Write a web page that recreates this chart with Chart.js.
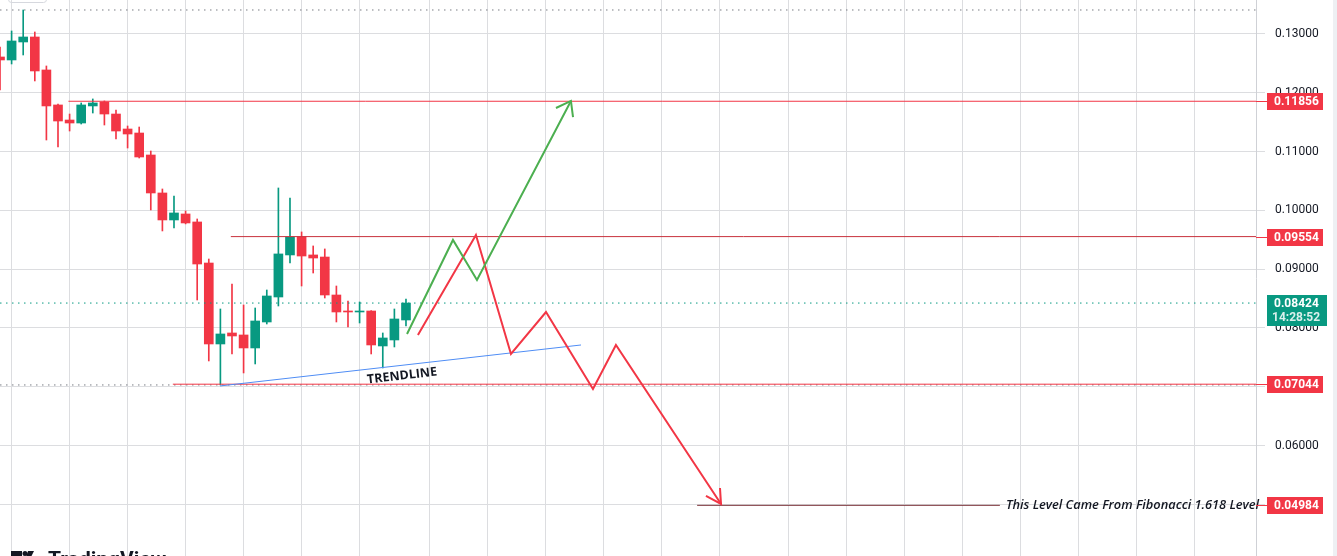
<!DOCTYPE html>
<html>
<head>
<meta charset="utf-8">
<script src="https://cdn.jsdelivr.net/npm/chart.js@4.4.1/dist/chart.umd.min.js"></script>
<style>
  html, body { margin: 0; padding: 0; background: #fff; overflow: hidden; }
  canvas { display: block; }
</style>
</head>
<body>
<canvas id="grafica" width="1337" height="556"></canvas>
<script>
// Velas diarias (el indice es la posicion en el eje x)
const opens  = [0.12609, 0.12558, 0.12864, 0.12949, 0.12388, 0.11793, 0.11537, 0.11486, 0.11776, 0.11844,
                0.11639, 0.11384, 0.11316, 0.10942, 0.10296, 0.09837, 0.09939, 0.09803, 0.09105, 0.07728,
                0.07915, 0.07881, 0.07660, 0.08102, 0.08527, 0.09242, 0.09548, 0.09242, 0.09207, 0.08561,
                0.08289, 0.08272, 0.08289, 0.07694, 0.07796, 0.08136];
const highs  = [0.12779, 0.13051, 0.13408, 0.13034, 0.12456, 0.11810, 0.11639, 0.11827, 0.11895, 0.11861,
                0.11707, 0.11435, 0.11418, 0.11010, 0.10364, 0.10245, 0.09990, 0.09854, 0.09173, 0.08323,
                0.08748, 0.08391, 0.08340, 0.08646, 0.10381, 0.10211, 0.09633, 0.09395, 0.09344, 0.08714,
                0.08459, 0.08442, 0.08295, 0.07915, 0.08323, 0.08493];
const lows   = [0.12048, 0.12490, 0.12643, 0.12201, 0.11197, 0.11078, 0.11350, 0.11469, 0.11656, 0.11452,
                0.11214, 0.11061, 0.10891, 0.10007, 0.09650, 0.09701, 0.09770, 0.08476, 0.07439, 0.07031,
                0.07558, 0.07235, 0.07388, 0.08068, 0.08374, 0.09105, 0.08714, 0.08935, 0.08510, 0.08102,
                0.08017, 0.08085, 0.07558, 0.07320, 0.07677, 0.08034];
const closes = [0.12558, 0.12881, 0.12949, 0.12371, 0.11776, 0.11520, 0.11486, 0.11793, 0.11827, 0.11639,
                0.11350, 0.11299, 0.10908, 0.10296, 0.09837, 0.09956, 0.09786, 0.09088, 0.07728, 0.07898,
                0.07864, 0.07660, 0.08119, 0.08544, 0.09259, 0.09548, 0.09224, 0.09190, 0.08561, 0.08272,
                0.08272, 0.08289, 0.07711, 0.07830, 0.08153, 0.08424];

const priceTicks = [0.05, 0.06, 0.07, 0.08, 0.09, 0.10, 0.11, 0.12, 0.13];
const gridDays = [1, 6, 11, 16, 21, 26, 31, 37, 42, 47, 52, 57, 62, 68, 73, 78, 83, 88, 93, 98, 103];
const timeLabel = "14:28:52";

// Niveles horizontales (precio e indice donde empiezan)
const levelPrices = [0.11856, 0.09554, 0.07044];
const levelStarts = [5.9, 19.9, 14.9];
const fibPrice = 0.04984;
const fibStart = 60.1;
const fibTextStart = 86.2;
const fibText = "This Level Came From Fibonacci 1.618 Level";

// Linea de tendencia
const trendX = [18.97, 50.09];
const trendY = [0.07014, 0.07711];
const trendLabel = "TRENDLINE";
const trendLabelX = 34.66;
const trendLabelY = 0.07184;

// Escenario alcista (verde) y bajista (rojo)
const greenPathX = [35.09, 39.05, 41.12, 49.22];
const greenPathY = [0.07898, 0.09497, 0.08816, 0.11861];
const greenHeadX = [47.93, 49.22, 49.40];
const greenHeadY = [0.11741, 0.11861, 0.11588];
const redPathX = [36.03, 41.03, 44.05, 47.07, 51.12, 53.10, 62.16];
const redPathY = [0.07881, 0.09582, 0.07558, 0.08272, 0.06963, 0.07711, 0.05007];
const redHeadX = [60.86, 62.16, 62.07];
const redHeadY = [0.05143, 0.05007, 0.05279];

const X_MAX = 108.28;
const Y_MIN = 0.04122;
const Y_MAX = 0.13578;

const UP = "#089981";
const DOWN = "#f23645";

const pts = (xs, ys) => xs.map((x, i) => ({ x, y: ys[i] }));
const lastClose = closes[closes.length - 1];
const hiPrice = Math.max(...highs);
const loPrice = Math.min(...lows);

function lineSet(data, color, width, order, dash) {
  return {
    type: "line", data, borderColor: color, borderWidth: width, borderDash: dash || [],
    pointRadius: 0, fill: false, tension: 0, order
  };
}

const datasets = [
  {
    type: "bar",
    data: opens.map((o, i) => ({ x: i, y: [o, closes[i]] })),
    backgroundColor: c => closes[c.dataIndex] >= opens[c.dataIndex] ? UP : DOWN,
    barThickness: 9, minBarLength: 1, grouped: false, order: 5
  },
  {
    type: "bar",
    data: lows.map((l, i) => ({ x: i, y: [l, highs[i]] })),
    backgroundColor: c => closes[c.dataIndex] >= opens[c.dataIndex] ? UP : DOWN,
    barThickness: 1, grouped: false, order: 6
  },
  lineSet(pts([0, X_MAX], [hiPrice, hiPrice]), "#7a7d85", 1, 4, [1.5, 4.5]),
  lineSet(pts([0, X_MAX], [loPrice, loPrice]), "#7a7d85", 1, 4, [1.5, 4.5]),
  lineSet(pts([0, X_MAX], [lastClose, lastClose]), UP, 1, 4, [1.5, 4.5]),
  lineSet(pts([levelStarts[0], X_MAX], [levelPrices[0], levelPrices[0]]), "#f23645", 1, 3),
  lineSet(pts([levelStarts[1], X_MAX], [levelPrices[1], levelPrices[1]]), "#c8323d", 1, 3),
  lineSet(pts([levelStarts[2], X_MAX], [levelPrices[2], levelPrices[2]]), "#f23645", 1, 3),
  lineSet(pts([fibStart, fibTextStart], [fibPrice, fibPrice]), "#7a3036", 1, 3),
  lineSet(pts(trendX, trendY), "#4f8df5", 1, 2),
  lineSet(pts(greenPathX, greenPathY), "#4caf50", 2, 1),
  lineSet(pts(greenHeadX, greenHeadY), "#4caf50", 2, 1),
  lineSet(pts(redPathX, redPathY), "#f23645", 2, 1),
  lineSet(pts(redHeadX, redHeadY), "#f23645", 2, 1)
];

const decoraciones = {
  id: "decoraciones",
  afterDatasetsDraw(chart) {
    const { ctx, scales: { x, y } } = chart;
    ctx.save();
    // texto de la linea de tendencia
    const ax = x.getPixelForValue(trendLabelX), ay = y.getPixelForValue(trendLabelY);
    const ang = Math.atan2(y.getPixelForValue(trendY[1]) - y.getPixelForValue(trendY[0]),
                           x.getPixelForValue(trendX[1]) - x.getPixelForValue(trendX[0]));
    ctx.translate(ax, ay);
    ctx.rotate(ang);
    ctx.fillStyle = "#131722";
    ctx.font = "bold 12.5px 'Open Sans'";
    ctx.textAlign = "center";
    ctx.textBaseline = "middle";
    ctx.fillText(trendLabel, 0, 0);
    ctx.restore();

    // texto fibonacci
    ctx.save();
    ctx.fillStyle = "#131722";
    ctx.font = "italic 600 12.8px 'Open Sans'";
    ctx.textAlign = "left";
    ctx.textBaseline = "middle";
    ctx.fillText(fibText, x.getPixelForValue(fibTextStart) + 6, y.getPixelForValue(fibPrice));

    // recuadro superior izquierdo
    ctx.strokeStyle = "#d6d8de";
    ctx.lineWidth = 1;
    ctx.beginPath();
    ctx.roundRect(8.5, -10, 38, 12.5, 3);
    ctx.stroke();

    // logo inferior
    ctx.fillStyle = "#131722";
    ctx.fillRect(11, 551, 11, 5);
    ctx.beginPath();
    ctx.arc(25, 553.5, 2.5, 0, Math.PI * 2);
    ctx.fill();
    ctx.beginPath();
    ctx.moveTo(28, 551); ctx.lineTo(34, 551); ctx.lineTo(31, 557); ctx.lineTo(26, 557);
    ctx.fill();
    ctx.font = "bold 21px Roboto";
    ctx.textBaseline = "alphabetic";
    ctx.fillText("TradingView", 48, 566);
    ctx.restore();
  },
  afterDraw(chart) {
    const { ctx, scales: { y }, chartArea } = chart;
    const left = chartArea.right;
    ctx.save();
    // barra gris derecha
    ctx.fillStyle = "#eef0f3";
    ctx.fillRect(1333, 0, 4, 556);

    ctx.textAlign = "left";
    ctx.textBaseline = "middle";
    const badges = [levelPrices[0], levelPrices[1], levelPrices[2], fibPrice];
    badges.forEach(p => {
      const py = Math.round(y.getPixelForValue(p));
      ctx.strokeStyle = "#f23645";
      ctx.lineWidth = 1;
      ctx.beginPath();
      ctx.moveTo(left, py + 0.5); ctx.lineTo(left + 11, py + 0.5);
      ctx.stroke();
      ctx.fillStyle = "#f23645";
      ctx.fillRect(left + 11, py - 8, 56, 17);
      ctx.fillStyle = "#ffffff";
      ctx.font = "bold 12px Roboto";
      ctx.fillText(p.toFixed(5), left + 18, py + 1);
    });
    // precio actual
    const cy = Math.round(y.getPixelForValue(lastClose));
    ctx.fillStyle = UP;
    ctx.fillRect(left + 11, cy - 8, 60, 31);
    ctx.fillStyle = "#ffffff";
    ctx.font = "bold 12px Roboto";
    ctx.fillText(lastClose.toFixed(5), left + 18, cy + 1);
    ctx.fillStyle = "rgba(255,255,255,0.85)";
    ctx.fillText(timeLabel, left + 16, cy + 15);
    ctx.restore();
  }
};

const ctx = document.getElementById("grafica").getContext("2d");
new Chart(ctx, {
  type: "bar",
  data: { datasets },
  options: {
    responsive: false,
    animation: false,
    layout: { padding: 0 },
    plugins: { legend: { display: false }, tooltip: { enabled: false } },
    scales: {
      x: {
        type: "linear",
        min: 0,
        max: X_MAX,
        offset: false,
        afterBuildTicks: s => { s.ticks = gridDays.map(v => ({ value: v })); },
        grid: { color: "#dcdde0", drawTicks: false, offset: false },
        border: { display: false },
        ticks: { display: false }
      },
      y: {
        position: "right",
        min: Y_MIN,
        max: Y_MAX,
        afterBuildTicks: s => { s.ticks = priceTicks.map(v => ({ value: v })); },
        afterFit: s => { s.width = 81; s.paddingTop = 0; s.paddingBottom = 0; },
        grid: { color: "#dcdde0", tickLength: 9 },
        border: { display: true, color: "#cfd1d6" },
        ticks: {
          padding: 10,
          color: "#131722",
          font: { family: "Roboto", size: 12 },
          callback: v => v.toFixed(5)
        }
      }
    }
  },
  plugins: [decoraciones]
});
</script>
</body>
</html>
